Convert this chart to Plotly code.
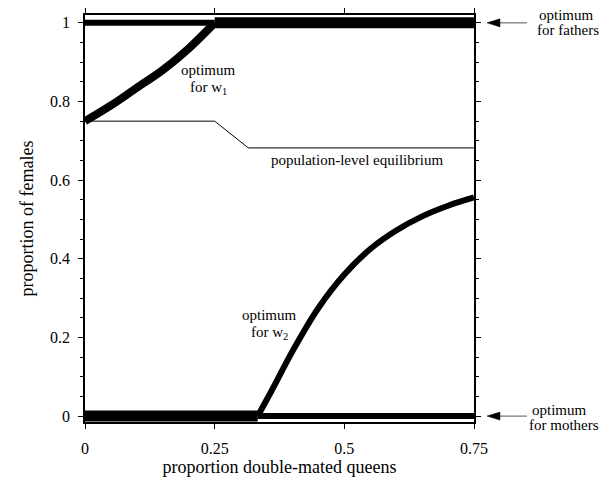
import plotly.graph_objects as go

# ---- data ----
fathers_x_thin = [0.0, 0.25]
fathers_y_thin = [1.0, 1.0]
fathers_x_thick = [0.25, 0.75]
fathers_y_thick = [1.0, 1.0]

mothers_x_thick = [0.0, 0.333]
mothers_y_thick = [0.0, 0.0]
mothers_x_thin = [0.333, 0.75]
mothers_y_thin = [0.0, 0.0]

w1_x = [0.0, 0.05, 0.1, 0.15, 0.2, 0.25]
w1_y = [0.75, 0.79, 0.835, 0.88, 0.935, 1.0]

eq_x = [0.0, 0.25, 0.315, 0.75]
eq_y = [0.75, 0.75, 0.682, 0.682]

w2_x = [0.333, 0.36, 0.4, 0.45, 0.5, 0.55, 0.6, 0.65, 0.7, 0.75]
w2_y = [0.0, 0.065, 0.165, 0.275, 0.36, 0.425, 0.472, 0.508, 0.535, 0.556]

x_ticks = [0, 0.25, 0.5, 0.75]
x_tick_labels = ["0", "0.25", "0.5", "0.75"]
y_ticks = [0, 0.2, 0.4, 0.6, 0.8, 1.0]
y_tick_labels = ["0", "0.2", "0.4", "0.6", "0.8", "1"]

FONT = "Liberation Serif, Times New Roman, serif"

fig = go.Figure()

def add_line(x, y, w, shape="linear"):
    fig.add_trace(go.Scatter(x=x, y=y, mode="lines",
                             line=dict(color="black", width=w, shape=shape),
                             showlegend=False, hoverinfo="skip"))

add_line(eq_x, eq_y, 1)
add_line(fathers_x_thin, fathers_y_thin, 6)
add_line(fathers_x_thick, fathers_y_thick, 11)
add_line(mothers_x_thick, mothers_y_thick, 11)
add_line(mothers_x_thin, mothers_y_thin, 6)
add_line(w1_x, w1_y, 8, "spline")
add_line(w2_x, w2_y, 6, "spline")

ann_font = dict(family=FONT, size=15, color="black")

def txt(x, y, s, xref="x", yref="y"):
    return dict(x=x, y=y, xref=xref, yref=yref, text=s, showarrow=False,
                font=ann_font, xanchor="center", yanchor="middle")

annotations = [
    txt(0.239, 0.880, "optimum"),
    txt(0.239, 0.835, "for w<sub>1</sub>"),
    txt(0.525, 0.651, "population-level equilibrium"),
    txt(0.355, 0.257, "optimum"),
    txt(0.355, 0.212, "for w<sub>2</sub>"),
    txt(1.239, 1.0, "optimum", "paper", "paper"),
    txt(1.2416, 0.963, "for fathers", "paper", "paper"),
    txt(1.221, 0.0295, "optimum", "paper", "paper"),
    txt(1.232, -0.0074, "for mothers", "paper", "paper"),
]

# arrows pointing at the two extreme optima (paper x, data y)
def arrow_shapes(y):
    hx, hl, hh, tail = 1.0334, 0.0334, 0.0102, 1.1362
    return [
        dict(type="line", xref="paper", yref="y", x0=hx + hl * 0.8, x1=tail,
             y0=y, y1=y, line=dict(color="#555", width=1)),
        dict(type="path", xref="paper", yref="y",
             path=f"M {hx},{y} L {hx + hl},{y + hh} L {hx + hl},{y - hh} Z",
             fillcolor="black", line=dict(color="black", width=0.5)),
    ]

shapes = arrow_shapes(1.0) + arrow_shapes(0.0)

fig.update_layout(
    width=605, height=471,
    margin=dict(l=77, r=139, t=7, b=57),
    paper_bgcolor="white", plot_bgcolor="white",
    font=dict(family=FONT, size=16, color="black"),
    annotations=annotations,
    shapes=shapes,
    xaxis=dict(range=[0, 0.75], tickvals=x_ticks, ticktext=x_tick_labels,
               showgrid=False, zeroline=False, showline=True, linecolor="black",
               linewidth=1.5, mirror="ticks", ticks="outside", ticklen=5,
               tickcolor="black", ticklabelstandoff=6, automargin=False,
               title=dict(text="proportion double-mated queens",
                          font=dict(family=FONT, size=18), standoff=4)),
    yaxis=dict(range=[-0.015, 1.02], tickvals=y_ticks, ticktext=y_tick_labels,
               showgrid=False, zeroline=False, showline=True, linecolor="black",
               linewidth=1.5, mirror="ticks", ticks="outside", ticklen=5,
               tickcolor="black", ticklabelstandoff=5, automargin=False,
               minor=dict(dtick=0.05, ticks="outside", ticklen=3, tickcolor="black"),
               title=dict(text="proportion of females",
                          font=dict(family=FONT, size=18), standoff=12)),
)

fig.write_html("out.html")
